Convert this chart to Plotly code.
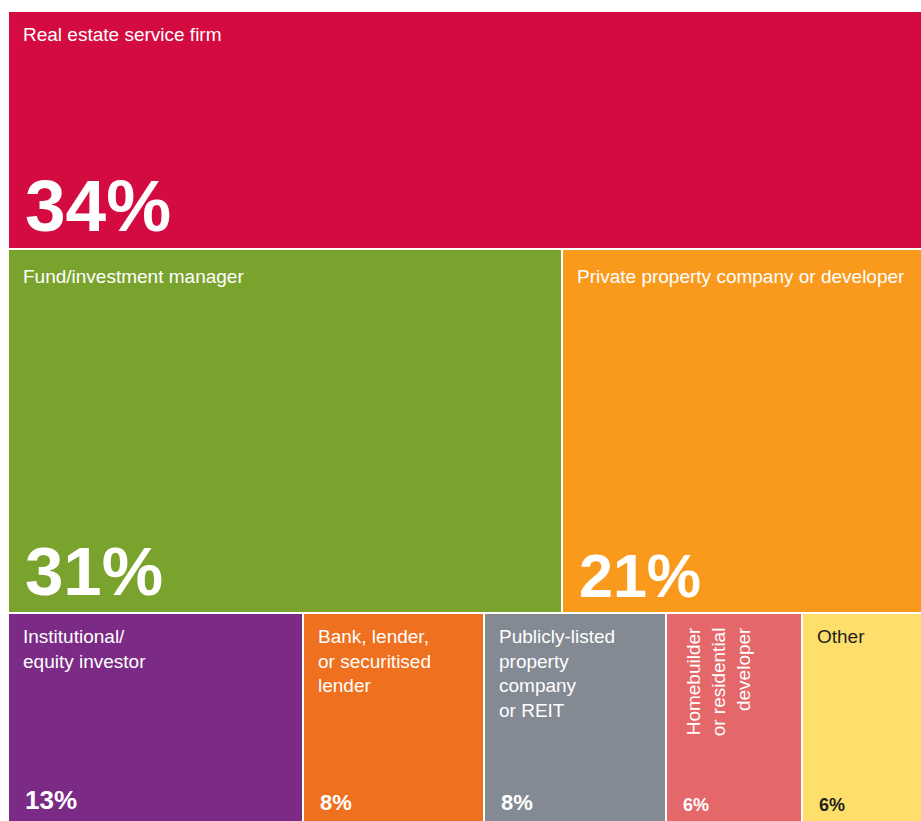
import plotly.graph_objects as go

# Respondent organisation types (share of respondents, %)
categories = [
    "Real estate service firm",
    "Fund/investment manager",
    "Private property company or developer",
    "Institutional/<br>equity investor",
    "Bank, lender,<br>or securitised<br>lender",
    "Publicly-listed<br>property<br>company<br>or REIT",
    "Homebuilder<br>or residential<br>developer",
    "Other",
]
values = [34, 31, 21, 13, 8, 8, 6, 6]
rows = [0, 1, 1, 2, 2, 2, 2, 2]
pct_labels = [f"{v}%" for v in values]

# Styling
colors = ["#D40B40", "#7AA32E", "#F99A1D", "#7B2B85",
          "#EF701F", "#838A93", "#E4686A", "#FEDF6B"]
text_colors = ["white"] * 7 + ["#231F20"]
pct_sizes = [73, 69, 61, 26, 22, 22, 18, 18]
label_angles = [0, 0, 0, 0, 0, 0, -90, 0]
label_drop = [11, 15, 11]          # px from tile top to label box, per row

# Row layout: each row's height is proportional to its total,
# tiles inside a row are proportional to their value.
n_rows = max(rows) + 1
row_sum = [sum(v for v, r in zip(values, rows) if r == k) for k in range(n_rows)]
row_top = [sum(row_sum[:k]) for k in range(n_rows)]

shares, bases, centers, heights = [], [], [], []
running = [0.0] * n_rows
for v, r in zip(values, rows):
    s = v / row_sum[r]
    shares.append(s)
    bases.append(running[r])
    running[r] += s
    centers.append(row_top[r] + row_sum[r] / 2)
    heights.append(row_sum[r])

fig = go.Figure(
    go.Bar(
        orientation="h",
        x=shares,
        base=bases,
        y=centers,
        width=heights,
        marker=dict(color=colors, line=dict(color="white", width=2)),
        hoverinfo="skip",
    )
)

label_font = "Liberation Sans, Arial, Helvetica, sans-serif"
pct_font = "Liberation Sans, Arial, Helvetica, sans-serif"

annotations = []
for i, r in enumerate(rows):
    # category label, top-left of tile
    ann = dict(
        x=bases[i], y=row_top[r], xref="x", yref="y",
        text=categories[i], showarrow=False,
        xanchor="left", yanchor="top", align="left",
        xshift=13, yshift=-label_drop[r],
        font=dict(family=label_font, size=19, color=text_colors[i]),
    )
    if label_angles[i]:
        ann.update(textangle=label_angles[i], align="right", xshift=15, yshift=-12)
    annotations.append(ann)

    # percentage, bottom-left of tile
    pct = dict(
        x=bases[i], xref="x", text=pct_labels[i], showarrow=False,
        xanchor="left", yanchor="bottom", xshift=15,
        font=dict(family=pct_font, size=pct_sizes[i], color=text_colors[i],
                  weight="bold"),
    )
    if r < n_rows - 1:
        pct.update(y=row_top[r] + row_sum[r], yref="y", yshift=1)
    else:
        pct.update(y=0, yref="paper", yshift=4)
    annotations.append(pct)

fig.update_layout(
    width=921, height=821,
    margin=dict(l=8, r=0, t=11, b=0),
    paper_bgcolor="white", plot_bgcolor="white",
    showlegend=False,
    bargap=0,
    xaxis=dict(range=[0, 913 / 930], visible=False, fixedrange=True),
    yaxis=dict(range=[115.7, 0], visible=False, fixedrange=True),
    annotations=annotations,
)

fig.write_html("out.html", config={"displayModeBar": False})
